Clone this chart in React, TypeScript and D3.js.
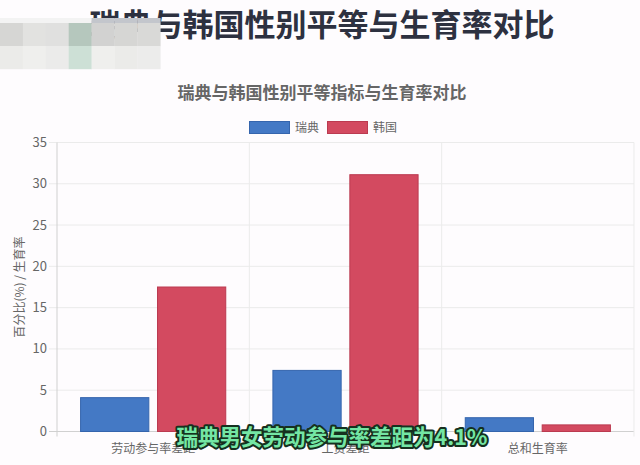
import * as d3 from 'd3';

// chart data
const categories = ['劳动参与率差距', '工资差距', '总和生育率'];
const seriesNames = ['瑞典', '韩国'];
const swedenValues = [4.1, 7.4, 1.67];
const koreaValues = [17.5, 31.1, 0.8];
const yTicks = [0, 5, 10, 15, 20, 25, 30, 35];

const colors = { 瑞典: '#4479c5', 韩国: '#d34a60' };
const borders = { 瑞典: '#3565ad', 韩国: '#bb3a50' };

// blurred patch over the top-left corner
const mosaicTop = ['#f3f3f3', '#f3f3f3', '#f3f3f3', '#f3f3f3', '#c3c6cc', '#c3c6cc', '#c3c6cc'];
const mosaicRow1 = ['#d6d6d4', '#e2e2e0', '#e0e0df', '#b5c7bd', '#d2d2d1', '#d6d6d4', '#d9d9d7'];
const mosaicRow2 = ['#ebebe9', '#efefed', '#ebebea', '#cde0d6', '#efefed', '#ebebe9', '#ececeb'];

const W = 640;
const H = 465;
const left = 57;
const right = 634;
const top = 142.5;
const bottom = 431.5;
const font = '"Noto Sans CJK SC", "Noto Sans", sans-serif';

const App = () => {
    const y = d3.scaleLinear().domain([0, 35]).range([bottom, top]);
    const x0 = d3.scaleBand<string>()
        .domain(categories)
        .range([left, right])
        .paddingInner(0.2)
        .paddingOuter(0.1);
    const x1 = d3.scaleBand<string>()
        .domain(seriesNames)
        .range([0, x0.bandwidth()])
        .paddingInner(0.1)
        .paddingOuter(0.05);

    const rows = categories.map((c, i) => ({
        cat: c,
        vals: [
            { name: '瑞典', v: swedenValues[i] },
            { name: '韩国', v: koreaValues[i] },
        ],
    }));

    const step = x0.step();
    const vLines = categories.map(c => (x0(c) as number) - step * 0.1).concat([right]);

    return (
        <svg width={W} height={H} style={{ position: 'absolute', left: 0, top: 0, background: '#fefcfe' }}
            fontFamily={font}>
            {/* page title */}
            <text x={322} y={36} textAnchor="middle" fontSize={31} fontWeight={700} fill="#2d3140">
                瑞典与韩国性别平等与生育率对比
            </text>

            {/* mosaic */}
            {[mosaicTop, mosaicRow1, mosaicRow2].map((row, r) =>
                row.map((col, i) => (
                    <rect key={`m${r}-${i}`} x={i * 22.9} y={r === 0 ? 18 : 23 + (r - 1) * 23}
                        width={23.2} height={r === 0 ? 5 : 23.2} fill={col} />
                ))
            )}

            {/* chart title */}
            <text x={322} y={99} textAnchor="middle" fontSize={17} fontWeight={700} fill="#666">
                瑞典与韩国性别平等指标与生育率对比
            </text>

            {/* legend */}
            {seriesNames.map((s, i) => (
                <g key={s} transform={`translate(${249 + i * 78},121)`}>
                    <rect x={0.5} y={0.5} width={40} height={12} fill={colors[s]} stroke={borders[s]} />
                    <text x={46} y={6.5} dy="0.35em" fontSize={12} fill="#666">{s}</text>
                </g>
            ))}

            {/* horizontal grid */}
            {yTicks.map(t => (
                <g key={t}>
                    <line x1={49} x2={right} y1={y(t)} y2={y(t)}
                        stroke={t === 0 ? '#d0d0d0' : '#ebebeb'} strokeWidth={1} />
                    <text x={47} y={y(t)} dy="0.35em" textAnchor="end" fontSize={13} fill="#666">{t}</text>
                </g>
            ))}

            {/* vertical grid */}
            {vLines.map((vx, i) => (
                <line key={i} x1={vx} x2={vx} y1={top} y2={bottom + 5}
                    stroke={i === 0 ? '#d0d0d0' : '#ebebeb'} strokeWidth={1} />
            ))}

            {/* axis title */}
            <text transform={`translate(20,${(top + bottom) / 2}) rotate(-90)`} textAnchor="middle"
                dy="0.35em" fontSize={12} fill="#666">
                百分比(%) / 生育率
            </text>

            {/* bars */}
            {rows.map(r => (
                <g key={r.cat} transform={`translate(${x0(r.cat)},0)`}>
                    {r.vals.map(d => (
                        <rect key={d.name}
                            x={(x1(d.name) as number) + 0.5}
                            y={y(d.v)}
                            width={x1.bandwidth() - 1}
                            height={bottom - y(d.v)}
                            fill={colors[d.name]}
                            stroke={borders[d.name]}
                            strokeWidth={1} />
                    ))}
                </g>
            ))}

            {/* x labels */}
            {categories.map(c => (
                <text key={c} x={(x0(c) as number) + x0.bandwidth() / 2} y={449} dy="0.35em"
                    textAnchor="middle" fontSize={12} fill="#666">{c}</text>
            ))}

            {/* caption */}
            <text x={332} y={445} textAnchor="middle" fontSize={21.5} fontWeight={700}
                fill="#74e6a4" stroke="#16301f" strokeWidth={4} paintOrder="stroke"
                strokeLinejoin="round">
                瑞典男女劳动参与率差距为4.1%
            </text>
        </svg>
    );
};

export default App;
